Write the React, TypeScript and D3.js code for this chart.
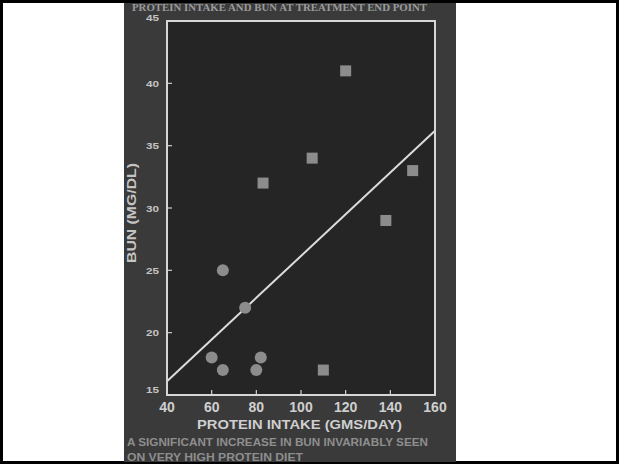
import React, { useEffect, useRef } from 'react';
import * as d3 from 'd3';

// low-protein group (circles)
const circleIntake = [65, 75, 60, 82, 65, 80];
const circleBun = [25, 22, 18, 18, 17, 17];
// high-protein group (squares)
const squareIntake = [120, 105, 150, 138, 83, 110];
const squareBun = [41, 34, 33, 29, 32, 17];
// regression line end points
const fitIntake = [40, 160];
const fitBun = [16.1, 36.2];

const xTicks = [40, 60, 80, 100, 120, 140, 160];
const yTicks = [15, 20, 25, 30, 35, 40, 45];

const title = 'PROTEIN INTAKE AND BUN AT TREATMENT END POINT';
const xLabel = 'PROTEIN INTAKE (GMS/DAY)';
const yLabel = 'BUN (MG/DL)';
const noteLines = ['A SIGNIFICANT INCREASE IN BUN INVARIABLY SEEN', 'ON VERY HIGH PROTEIN DIET'];

const App = () => {
  const svgRef = useRef<SVGSVGElement | null>(null);
  const width = 621;
  const height = 465;
  const plot = { left: 167, right: 435, top: 21, bottom: 395 };

  useEffect(() => {
    const svg = d3.select(svgRef.current);
    svg.selectAll('*').remove();

    const x = d3.scaleLinear().domain([40, 160]).range([plot.left, plot.right]);
    const y = d3.scaleLinear().domain([15, 45]).range([plot.bottom, plot.top]);
    const sans = 'Liberation Sans, Arial, sans-serif';

    // page + border
    svg.append('rect')
      .attr('x', 1.5).attr('y', 1.5).attr('width', 616).attr('height', 461)
      .attr('fill', '#fff').attr('stroke', '#000').attr('stroke-width', 3);

    // slide background
    svg.append('rect')
      .attr('x', 124).attr('y', 3).attr('width', 332).attr('height', 459)
      .attr('fill', '#3a3a3a');

    // plot area
    svg.append('rect')
      .attr('x', plot.left).attr('y', plot.top)
      .attr('width', plot.right - plot.left).attr('height', plot.bottom - plot.top)
      .attr('fill', '#252525');

    // title
    svg.append('text')
      .attr('x', 132).attr('y', 11)
      .attr('textLength', 295).attr('lengthAdjust', 'spacingAndGlyphs')
      .attr('font-family', 'Liberation Serif, Times New Roman, serif')
      .attr('font-size', 10).attr('font-weight', 'bold').attr('fill', '#9a9a9a')
      .text(title);

    // ticks inside the frame
    const tickG = svg.append('g').attr('stroke', '#cfcfcf').attr('stroke-width', 1.2);
    yTicks.slice(1, -1).forEach(t => {
      tickG.append('line')
        .attr('x1', plot.left).attr('x2', plot.left + 5)
        .attr('y1', y(t)).attr('y2', y(t));
    });
    xTicks.slice(1, -1).forEach(t => {
      tickG.append('line')
        .attr('x1', x(t)).attr('x2', x(t))
        .attr('y1', plot.bottom).attr('y2', plot.bottom - 5);
    });

    // y tick labels
    yTicks.forEach(t => {
      svg.append('text')
        .attr('x', 159).attr('y', y(t) + (t === 45 ? 0 : t === 15 ? -2 : 3.5))
        .attr('text-anchor', 'end')
        .attr('font-family', sans).attr('font-weight', 'bold')
        .attr('font-size', 9).attr('fill', '#c4c4c4')
        .attr('textLength', 13).attr('lengthAdjust', 'spacingAndGlyphs')
        .text(t);
    });

    // x tick labels
    xTicks.forEach(t => {
      svg.append('text')
        .attr('x', x(t)).attr('y', 412)
        .attr('text-anchor', 'middle')
        .attr('font-family', sans).attr('font-weight', 'bold')
        .attr('font-size', 14).attr('fill', '#cfcfcf')
        .text(t);
    });

    // axis labels
    svg.append('text')
      .attr('x', 197).attr('y', 429)
      .attr('textLength', 205).attr('lengthAdjust', 'spacingAndGlyphs')
      .attr('font-family', sans).attr('font-weight', 'bold')
      .attr('font-size', 13).attr('fill', '#cfcfcf')
      .text(xLabel);

    svg.append('text')
      .attr('transform', `translate(136, 213) rotate(-90)`)
      .attr('text-anchor', 'middle')
      .attr('textLength', 100).attr('lengthAdjust', 'spacingAndGlyphs')
      .attr('font-family', sans).attr('font-weight', 'bold')
      .attr('font-size', 12).attr('fill', '#c4c4c4')
      .text(yLabel);

    // note
    noteLines.forEach((line, i) => {
      svg.append('text')
        .attr('x', 127).attr('y', 446 + i * 15)
        .attr('textLength', i === 0 ? 301 : 176).attr('lengthAdjust', 'spacingAndGlyphs')
        .attr('font-family', sans).attr('font-weight', 'bold')
        .attr('font-size', 10).attr('fill', '#8e8e8e')
        .text(line);
    });

    // regression line
    svg.append('line')
      .attr('x1', x(fitIntake[0])).attr('y1', y(fitBun[0]))
      .attr('x2', x(fitIntake[1])).attr('y2', y(fitBun[1]))
      .attr('stroke', '#dcdcdc').attr('stroke-width', 2);

    // markers
    circleIntake.forEach((v, i) => {
      svg.append('circle')
        .attr('cx', x(v)).attr('cy', y(circleBun[i])).attr('r', 6)
        .attr('fill', '#8c8c8c');
    });
    squareIntake.forEach((v, i) => {
      svg.append('rect')
        .attr('x', x(v) - 5.5).attr('y', y(squareBun[i]) - 5.5)
        .attr('width', 11).attr('height', 11)
        .attr('fill', '#8c8c8c');
    });

    // frame
    svg.append('rect')
      .attr('x', plot.left).attr('y', plot.top)
      .attr('width', plot.right - plot.left).attr('height', plot.bottom - plot.top)
      .attr('fill', 'none').attr('stroke', '#d6d6d6').attr('stroke-width', 2);
  }, []);

  return (
    <svg ref={svgRef} width={width} height={height}
      style={{ position: 'absolute', left: 0, top: 0 }} />
  );
};

export default App;
